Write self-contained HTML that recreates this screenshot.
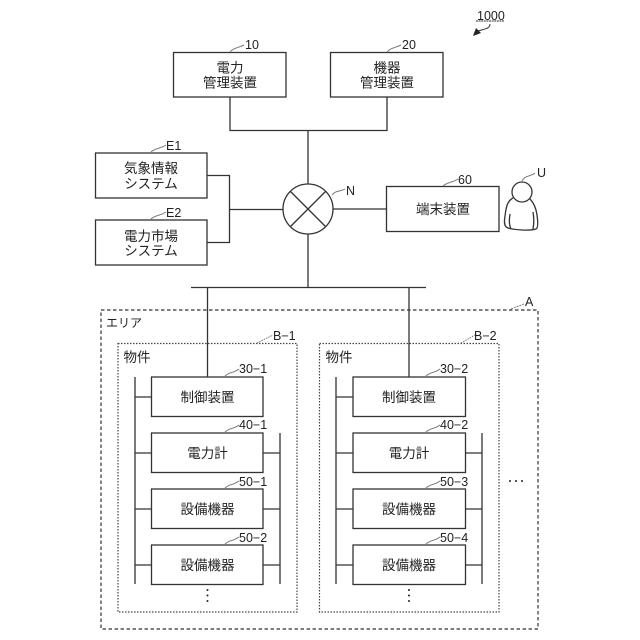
<!DOCTYPE html>
<html><head><meta charset="utf-8"><style>
html,body{margin:0;padding:0;background:#fff}
svg{display:block}
.j{font-family:"Liberation Sans","Noto Sans CJK JP",sans-serif;font-size:13.5px;fill:#222;text-anchor:middle}
.t{font-family:"Liberation Sans","Noto Sans CJK JP",sans-serif;font-size:12.5px;fill:#222}
.b{fill:#fff;stroke:#333;stroke-width:1.3}
.c{fill:none;stroke:#333;stroke-width:1.3}
.g{fill:none;stroke:#777;stroke-width:1}
</style></head><body>
<svg width="640" height="640" viewBox="0 0 640 640" xmlns="http://www.w3.org/2000/svg">
<rect width="640" height="640" fill="#fff"/>
<rect x="101" y="310" width="437" height="319" fill="none" stroke="#333" stroke-width="1.2" stroke-dasharray="3.5 2.5"/>
<rect x="118" y="343.500" width="179" height="268.500" fill="none" stroke="#444" stroke-width="1.2" stroke-dasharray="1.500 1.500"/>
<rect x="319.500" y="343.500" width="179.500" height="268.500" fill="none" stroke="#444" stroke-width="1.2" stroke-dasharray="1.500 1.500"/>
<path class="c" d="M230 97V130.500H387V97M308 130.500V184M308 234V287.500M191 287.500H426M207.500 287.500V377M409 287.500V377M207 175.500H229.500V242.500H207M229.500 209.500H283M333 209H386.500"/>
<path class="c" d="M135 377V584M151.500 397H135M151.500 453H135M151.500 509H135M151.500 565H135M280 433V584M263 453H280M263 509H280M263 565H280"/>
<path class="c" d="M336 377V584M353 397H336M353 453H336M353 509H336M353 565H336M482 433V584M465.500 453H482M465.500 509H482M465.500 565H482"/>
<rect class="b" x="173.500" y="52.500" width="112.500" height="44.500"/>
<rect class="b" x="330.500" y="52.500" width="112.500" height="44.500"/>
<rect class="b" x="95.500" y="153" width="111.500" height="45"/>
<rect class="b" x="95.500" y="220" width="111.500" height="45"/>
<rect class="b" x="386.500" y="186.500" width="112.500" height="45"/>
<circle class="b" cx="308" cy="209" r="25"/>
<path class="c" d="M290.500 191.500L325.500 226.500M325.500 191.500L290.500 226.500"/>
<rect class="b" x="151.500" y="377" width="111.500" height="39.500"/>
<rect class="b" x="151.500" y="433" width="111.500" height="39.500"/>
<rect class="b" x="151.500" y="489" width="111.500" height="39.500"/>
<rect class="b" x="151.500" y="545" width="111.500" height="39.500"/>
<rect class="b" x="353" y="377" width="112.500" height="39.500"/>
<rect class="b" x="353" y="433" width="112.500" height="39.500"/>
<rect class="b" x="353" y="489" width="112.500" height="39.500"/>
<rect class="b" x="353" y="545" width="112.500" height="39.500"/>
<circle class="b" cx="522" cy="192" r="10"/>
<path class="c" d="M513 198C507 201 506 208 505 216C504 222 504 227 508 228C514 230 530 231 536 229C538 228 538 222 537 215C536 208 534 203 530 199M510 214C509 220 509 225 511 229M533 212C534 218 534 224 533 229"/>
<g class="g">
<path d="M230 52C233 48 238 48 244 45"/><path d="M387 52C390 48 395 48 401 45"/>
<path d="M151 152C155 148 160 149 166 145"/><path d="M151 219C155 215 160 216 166 212"/>
<path d="M443 186C447 182 452 183 458 179"/><path d="M522 181C525 175 530 177 535 173"/>
<path d="M332 195C336 190 340 192 345 189"/>
<path d="M225 376C229 372 234 373 239 369"/><path d="M225 432C229 428 234 429 239 425"/>
<path d="M225 488C229 484 234 485 239 481"/><path d="M225 544C229 540 234 541 239 537"/>
<path d="M426 376C430 372 435 373 440 369"/><path d="M426 432C430 428 435 429 440 425"/>
<path d="M426 488C430 484 435 485 440 481"/><path d="M426 544C430 540 435 541 440 537"/>
<path d="M257 343L273 335" stroke-dasharray="1.500 1"/><path d="M461 343L475 335" stroke-dasharray="1.500 1"/>
<path d="M511 309L524 304" stroke-dasharray="2 1"/>
</g>
<path d="M476 21H504" stroke="#333" stroke-width="1" stroke-dasharray="2 .6" fill="none"/>
<path d="M490 24C490 29 484 29 478 31" stroke="#333" stroke-width="1" fill="none"/>
<path d="M473 36L476 28L481 33Z" fill="#222"/>
<text class="t" x="477" y="20">1000</text>
<text class="t" x="245" y="49">10</text><text class="t" x="402" y="49">20</text>
<text class="t" x="166" y="150">E1</text><text class="t" x="166" y="217">E2</text>
<text class="t" x="458" y="184">60</text><text class="t" x="537" y="177">U</text>
<text class="t" x="346" y="195">N</text><text class="t" x="525" y="306">A</text>
<text class="t" x="273" y="340">B−1</text><text class="t" x="474" y="340">B−2</text>
<text class="t" x="239" y="373">30−1</text><text class="t" x="239" y="429">40−1</text>
<text class="t" x="239" y="486">50−1</text><text class="t" x="239" y="542">50−2</text>
<text class="t" x="440" y="373">30−2</text><text class="t" x="440" y="429">40−2</text>
<text class="t" x="440" y="486">50−3</text><text class="t" x="440" y="542">50−4</text>
<text class="j" x="230" y="72.500">電力</text><text class="j" x="230" y="87.500">管理装置</text>
<text class="j" x="387" y="72.500">機器</text><text class="j" x="387" y="87.500">管理装置</text>
<text class="j" x="151" y="173">気象情報</text><text class="j" x="151" y="188.500">システム</text>
<text class="j" x="151" y="241">電力市場</text><text class="j" x="151" y="255.500">システム</text>
<text class="j" x="443" y="214">端末装置</text>
<text class="j" x="207.500" y="402">制御装置</text><text class="j" x="207.500" y="458">電力計</text>
<text class="j" x="207.500" y="514">設備機器</text><text class="j" x="207.500" y="570">設備機器</text>
<text class="j" x="409" y="402">制御装置</text><text class="j" x="409" y="458">電力計</text>
<text class="j" x="409" y="514">設備機器</text><text class="j" x="409" y="570">設備機器</text>
<text class="j" x="124" y="327" style="font-size:12px">エリア</text>
<text class="j" x="137" y="362">物件</text><text class="j" x="339" y="362">物件</text>
<g fill="#222"><circle cx="207.500" cy="590" r="1"/><circle cx="207.500" cy="595.500" r="1"/><circle cx="207.500" cy="601" r="1"/>
<circle cx="409" cy="590" r="1"/><circle cx="409" cy="595.500" r="1"/><circle cx="409" cy="601" r="1"/>
<circle cx="510" cy="481" r="1"/><circle cx="516" cy="481" r="1"/><circle cx="522" cy="481" r="1"/></g>
</svg>
</body></html>
